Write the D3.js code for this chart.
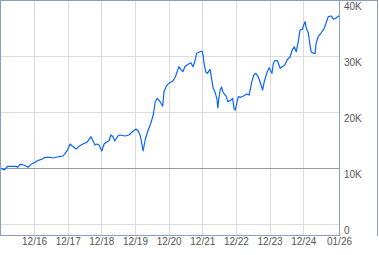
<!DOCTYPE html>
<html>
<head>
<meta charset="utf-8">
<script src="https://cdn.jsdelivr.net/npm/d3@7"></script>
<style>
  body { margin: 0; background: #fff; }
  svg { display: block; }
</style>
</head>
<body>
<div id="chart"></div>
<script>
// 데이터 (decimal year, value)
const dates = [
  2015.91, 2016.03, 2016.14, 2016.38, 2016.43, 2016.50, 2016.62, 2016.74, 2016.83, 2016.95,
  2017.04, 2017.15, 2017.24, 2017.39, 2017.48, 2017.60, 2017.69, 2017.78, 2017.84, 2017.90,
  2017.99, 2018.05, 2018.17, 2018.25, 2018.37, 2018.49, 2018.61, 2018.67, 2018.73, 2018.79,
  2018.85, 2018.93, 2019.00, 2019.06, 2019.15, 2019.20, 2019.26, 2019.32, 2019.41, 2019.47,
  2019.62, 2019.74, 2019.83, 2019.95, 2020.01, 2020.07, 2020.13, 2020.16, 2020.22, 2020.30,
  2020.39, 2020.46, 2020.52, 2020.58, 2020.66, 2020.74, 2020.78, 2020.84, 2020.90, 2020.96,
  2021.05, 2021.11, 2021.17, 2021.22, 2021.28, 2021.34, 2021.40, 2021.46, 2021.55, 2021.58,
  2021.64, 2021.70, 2021.75, 2021.85, 2021.91, 2021.94, 2021.97, 2022.02, 2022.07, 2022.12,
  2022.15, 2022.20, 2022.24, 2022.29, 2022.35, 2022.38, 2022.41, 2022.45, 2022.49, 2022.53,
  2022.59, 2022.62, 2022.68, 2022.77, 2022.82, 2022.86, 2022.90, 2022.94, 2022.99, 2023.06,
  2023.14, 2023.24, 2023.31, 2023.39, 2023.45, 2023.51, 2023.58, 2023.65, 2023.71, 2023.76,
  2023.81, 2023.85, 2023.91, 2023.95, 2023.99, 2024.03, 2024.08, 2024.15, 2024.21, 2024.23,
  2024.29, 2024.37, 2024.45, 2024.52, 2024.59, 2024.65, 2024.71, 2024.77, 2024.82, 2024.89,
  2024.93, 2024.97, 2025.01, 2025.07, 2025.11, 2025.15, 2025.22, 2025.27, 2025.30, 2025.36,
  2025.46, 2025.54, 2025.61, 2025.66, 2025.76, 2025.81, 2025.88, 2025.98
];

const values = [
  10000, 9620, 10280, 10280, 10100, 10630, 10510, 10100, 10630, 10990,
  11350, 11530, 11890, 11890, 11760, 11940, 12060, 12120, 12600, 13070,
  14260, 13910, 13370, 13850, 14260, 14570, 15570, 14850, 14080, 14260,
  14080, 13010, 14260, 14570, 14850, 15870, 15600, 14800, 15690, 15870,
  15690, 15870, 16410, 16940, 16590, 15870, 14080, 13010, 14980, 16590,
  18020, 19450, 21820, 22430, 21820, 21050, 23610, 24500, 24990, 25250,
  25580, 26150, 27180, 28080, 27610, 27180, 28080, 28380, 28690, 28790,
  28080, 29150, 30470, 30760, 30880, 30170, 28690, 27180, 26900, 27360,
  27610, 25700, 24220, 23610, 22430, 20700, 22430, 23910, 24450, 23610,
  23020, 22900, 21820, 22130, 22430, 20640, 20340, 21540, 22720, 22610,
  22840, 23200, 23020, 25400, 26600, 26900, 26290, 25110, 23910, 25400,
  26420, 27180, 27900, 27360, 26900, 28690, 29190, 29150, 28200, 27790,
  28080, 28380, 29400, 29760, 31060, 31650, 30760, 32550, 34640, 34760,
  35530, 36120, 34940, 34050, 32260, 30760, 30470, 30470, 32260, 33440,
  34230, 34940, 36120, 37020, 37140, 36550, 36730, 37190
];

// x축 눈금 (decimal year) 및 라벨
const xTickDates = [2016.917, 2017.917, 2018.917, 2019.917, 2020.917, 2021.917, 2022.917, 2023.917, 2024.917, 2025.98];
const xTickLabels = ["12/16", "12/17", "12/18", "12/19", "12/20", "12/21", "12/22", "12/23", "12/24", "01/26"];

// y축 눈금
const yTicks = [0, 10000, 20000, 30000, 40000];
const yTickLabels = ["0", "10K", "20K", "30K", "40K"];
const baseValue = 10000;

// decimal year -> Date
function toDate(t) {
  const y = Math.floor(t);
  const s = Date.UTC(y, 0, 1), e = Date.UTC(y + 1, 0, 1);
  return new Date(s + (t - y) * (e - s));
}

const data = dates.map((t, i) => ({ date: toDate(t), value: values[i] }));

const width = 379, height = 255;
const plot = { left: 0, top: 0, right: 339, bottom: 235 };
const frameColor = "#8a9fba";

const svg = d3.select("#chart").append("svg")
  .attr("width", width)
  .attr("height", height);

const xScale = d3.scaleUtc()
  .domain([toDate(2015.907), toDate(2025.98)])
  .range([plot.left, plot.right]);

const yScale = d3.scaleLinear()
  .domain([-2000, 40000])
  .range([plot.bottom, plot.top]);

const px = v => Math.round(v) + 0.5;

// 세로 그리드
svg.append("g")
  .selectAll("line")
  .data(xTickDates.slice(0, -1))
  .enter().append("line")
  .attr("x1", d => px(xScale(toDate(d))))
  .attr("x2", d => px(xScale(toDate(d))))
  .attr("y1", plot.top)
  .attr("y2", plot.bottom)
  .attr("stroke", "#dcdcdc")
  .attr("stroke-width", 1);

// 가로 그리드
svg.append("g")
  .selectAll("line")
  .data(yTicks)
  .enter().append("line")
  .attr("x1", plot.left)
  .attr("x2", plot.right)
  .attr("y1", d => px(yScale(d)))
  .attr("y2", d => px(yScale(d)))
  .attr("stroke", d => d === baseValue ? "#9a9a9a" : "#dcdcdc")
  .attr("stroke-width", 1);

// 라인
svg.append("path")
  .datum(data)
  .attr("fill", "none")
  .attr("stroke", "#0a64ff")
  .attr("stroke-width", 1.2)
  .attr("stroke-linejoin", "round")
  .attr("d", d3.line().x(d => xScale(d.date)).y(d => yScale(d.value)));

// 프레임
const frame = svg.append("g").attr("stroke", frameColor).attr("stroke-width", 1);
frame.append("line").attr("x1", 0).attr("x2", 378).attr("y1", 0.5).attr("y2", 0.5);
frame.append("line").attr("x1", 0.5).attr("x2", 0.5).attr("y1", 0).attr("y2", plot.bottom + 1);
frame.append("line").attr("x1", plot.right + 0.5).attr("x2", plot.right + 0.5).attr("y1", 0).attr("y2", plot.bottom + 1);
frame.append("line").attr("x1", 0).attr("x2", plot.right + 1).attr("y1", plot.bottom + 0.5).attr("y2", plot.bottom + 0.5);
frame.append("line").attr("x1", 377.5).attr("x2", 377.5).attr("y1", 0).attr("y2", plot.bottom + 1);

// x축 라벨
const xAxis = svg.append("g")
  .attr("transform", `translate(0, ${plot.bottom})`)
  .call(d3.axisBottom(xScale)
    .tickValues(xTickDates.map(toDate))
    .tickSize(0)
    .tickPadding(3)
    .tickFormat((d, i) => xTickLabels[i]));
xAxis.select(".domain").remove();
xAxis.selectAll("text")
  .attr("fill", "#555")
  .attr("font-size", "10px")
  .attr("font-family", "Arial, 'Liberation Sans', sans-serif");

// y축 라벨 (오른쪽)
const yAxis = svg.append("g")
  .attr("transform", `translate(${plot.right}, 0)`)
  .call(d3.axisRight(yScale)
    .tickValues(yTicks)
    .tickSize(0)
    .tickPadding(5)
    .tickFormat((d, i) => yTickLabels[i]));
yAxis.select(".domain").remove();
yAxis.selectAll("text")
  .attr("fill", "#555")
  .attr("font-size", "10px")
  .attr("font-family", "Arial, 'Liberation Sans', sans-serif")
  .attr("dy", "0.95em")
  .attr("y", 0);
</script>
</body>
</html>
